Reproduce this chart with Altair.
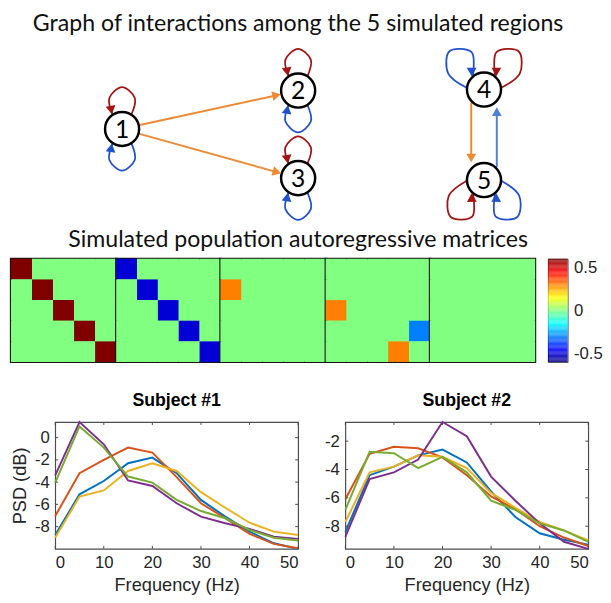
import math
import altair as alt
import pandas as pd
import numpy as np

# ---------------------------------------------------------------- data
NODE_IDS = [1, 2, 3, 4, 5]
NODE_X = [121, 300, 300, 489, 489]
NODE_Y = [126, 87, 176, 86, 178]

EDGE_FROM = [1, 1, 4, 5]
EDGE_TO = [2, 3, 5, 4]
EDGE_SIGN = ["+", "+", "+", "-"]

LOOP_NODE = [1, 1, 2, 2, 3, 3, 4, 4, 5, 5]
LOOP_LAG = [1, 2, 1, 2, 1, 2, 1, 2, 1, 2]

A1 = [[0.6, 0, 0, 0, 0], [0, 0.6, 0, 0, 0], [0, 0, 0.6, 0, 0], [0, 0, 0, 0.6, 0], [0, 0, 0, 0, 0.6]]
A2 = [[-0.5, 0, 0, 0, 0], [0, -0.5, 0, 0, 0], [0, 0, -0.5, 0, 0], [0, 0, 0, -0.5, 0], [0, 0, 0, 0, -0.5]]
A3 = [[0, 0, 0, 0, 0], [0.3, 0, 0, 0, 0], [0, 0, 0, 0, 0], [0, 0, 0, 0, 0], [0, 0, 0, 0, 0]]
A4 = [[0, 0, 0, 0, 0], [0, 0, 0, 0, 0], [0.3, 0, 0, 0, 0], [0, 0, 0, 0, -0.3], [0, 0, 0, 0.3, 0]]
A5 = [[0, 0, 0, 0, 0], [0, 0, 0, 0, 0], [0, 0, 0, 0, 0], [0, 0, 0, 0, 0], [0, 0, 0, 0, 0]]
MATRICES = [A1, A2, A3, A4, A5]
CBAR_TICKS = [-0.5, 0, 0.5]

FREQ = [0, 5, 10, 15, 20, 25, 30, 35, 40, 45, 50]
SERIES = ["1", "2", "3", "4", "5"]
S1_1 = [-8.75, -5.1, -3.9, -2.3, -1.8, -3.2, -5.6, -7.1, -8.45, -9.5, -10.0]
S1_2 = [-7.05, -3.2, -2.0, -0.9, -1.35, -3.55, -5.9, -7.25, -8.65, -9.55, -9.95]
S1_3 = [-9.0, -5.3, -4.75, -3.0, -2.3, -3.0, -4.9, -6.3, -7.65, -8.45, -8.75]
S1_4 = [-3.4, 1.4, -0.6, -3.85, -4.35, -5.9, -7.1, -7.7, -8.2, -8.9, -9.1]
S1_5 = [-4.05, 1.0, -0.9, -3.5, -4.05, -5.6, -6.6, -7.25, -8.3, -9.0, -9.25]
S2_1 = [-8.4, -4.4, -3.8, -3.0, -2.6, -3.5, -5.55, -7.35, -8.5, -8.95, -9.3]
S2_2 = [-6.1, -2.9, -2.4, -2.5, -3.15, -4.4, -5.9, -6.8, -8.0, -8.8, -9.4]
S2_3 = [-7.7, -4.2, -3.8, -3.0, -3.1, -3.9, -5.65, -6.7, -7.7, -8.3, -9.0]
S2_4 = [-8.75, -4.67, -4.2, -3.3, -0.65, -1.65, -4.5, -6.2, -7.8, -9.1, -9.6]
S2_5 = [-6.85, -2.75, -2.85, -3.9, -3.1, -4.2, -6.2, -6.85, -7.8, -8.3, -9.1]
X_TICKS = [0, 10, 20, 30, 40, 50]
Y_TICKS_1 = [-8, -6, -4, -2, 0]
Y_TICKS_2 = [-8, -6, -4, -2]

# ---------------------------------------------------------------- styles / layout
RED = "#A31515"
BLUE = "#2251CC"
ORANGE = "#EF8A34"
LBLUE = "#4D80D9"
LINE_COLORS = ["#0072BD", "#D95319", "#EDB120", "#7E2F8E", "#77AC30"]
JET_DOMAIN = [-0.6, -0.45, -0.15, 0.15, 0.45, 0.6]
JET_RANGE = ["#000080", "#0000FF", "#00FFFF", "#FFFF00", "#FF0000", "#800000"]
TXT = "#262626"
FRAME = "#4d4d4d"
SANS = "Liberation Sans"
TFONT = "Lato"

GW, GH = 595, 250            # graph panel (page x 8..603, y 8..258)
MAT_W = [107, 106, 107, 106, 107]
MAT_H = 105
PW, PH = 247, 129
PSD_LEFT = 45                # room for the y axis of the first PSD panel

# loop geometry: attach angle, half-opening, body angle, length, half width
LOOP_GEOM = {
    (1, 1): (0, 33, 0, 25, 13), (1, 2): (180, 33, 180, 25, 13),
    (2, 1): (0, 33, 0, 25, 13), (2, 2): (180, 33, 180, 25, 13),
    (3, 1): (0, 33, 0, 25, 13), (3, 2): (180, 33, 180, 25, 13),
    (4, 1): (62, 22, 42, 35, 16), (4, 2): (298, 22, 318, 35, 16),
    (5, 1): (244, 24, 222, 33, 16), (5, 2): (116, 24, 138, 33, 16),
}
ARROW_SIZE = 100
ARROW_H = math.sqrt(ARROW_SIZE) * math.sqrt(3) / 4  # tip distance from symbol centre


def unit(theta):
    t = math.radians(theta)
    return math.sin(t), -math.cos(t)


def ang_of(dx, dy):
    return (math.degrees(math.atan2(dx, -dy)) + 360.0) % 360.0


pos = {n: (x, y) for n, x, y in zip(NODE_IDS, NODE_X, NODE_Y)}

# loops + their arrowheads
loop_rows, loop_arrows = [], []
for i, (n, lag) in enumerate(zip(LOOP_NODE, LOOP_LAG)):
    cx, cy = pos[n]
    attach, a, body, L, W = LOOP_GEOM[(n, lag)]
    R0 = 17.5

    def at(r, th):
        ux, uy = unit(th)
        return cx + r * ux, cy + r * uy

    A = at(R0, attach - a)
    mid = at(R0 + 0.55 * L, body)
    px, py = unit(body + 90)
    Q1 = (mid[0] - W * px, mid[1] - W * py)
    P = at(R0 + L, body)
    Q2 = (mid[0] + W * px, mid[1] + W * py)
    B = at(R0, attach + a)
    for k, (x, y) in enumerate([A, Q1, P, Q2, B]):
        loop_rows.append({"loop": i, "k": k, "x": x, "y": y, "lag": lag})
    if lag == 1:
        tip, prev = at(19.5, attach - a), Q1
    else:
        tip, prev = at(19.5, attach + a), Q2
    dx, dy = tip[0] - prev[0], tip[1] - prev[1]
    d = math.hypot(dx, dy)
    dx, dy = dx / d, dy / d
    loop_arrows.append({"x": tip[0] - ARROW_H * dx, "y": tip[1] - ARROW_H * dy,
                        "ang": ang_of(dx, dy), "lag": lag})
loops_df = pd.DataFrame(loop_rows)
loop_arrows_df = pd.DataFrame(loop_arrows)

# edges + arrowheads
edge_rows, edge_arrows = [], []
pairs = set(zip(EDGE_FROM, EDGE_TO))
for s, t, sg in zip(EDGE_FROM, EDGE_TO, EDGE_SIGN):
    (x1, y1), (x2, y2) = pos[s], pos[t]
    dx, dy = x2 - x1, y2 - y1
    d = math.hypot(dx, dy)
    dx, dy = dx / d, dy / d
    off = 13 if (t, s) in pairs else 0
    ox, oy = -dy * off, dx * off
    start_along = math.sqrt(max(18.5 ** 2 - off ** 2, 0))
    sx, sy = x1 + ox + dx * start_along, y1 + oy + dy * start_along
    tx, ty = x2 + ox - dx * 19.5, y2 + oy - dy * 19.5
    ex, ey = tx - dx * 6, ty - dy * 6
    edge_rows.append({"x": sx, "y": sy, "x2": ex, "y2": ey, "sign": sg})
    edge_arrows.append({"x": tx - ARROW_H * dx, "y": ty - ARROW_H * dy,
                        "ang": ang_of(dx, dy), "sign": sg})
edges_df = pd.DataFrame(edge_rows)
edge_arrows_df = pd.DataFrame(edge_arrows)

nodes_df = pd.DataFrame({"x": NODE_X, "y": NODE_Y, "label": [str(n) for n in NODE_IDS]})

XS = alt.Scale(domain=[8, 8 + GW], nice=False, zero=False)
YS = alt.Scale(domain=[8, 8 + GH], nice=False, zero=False, reverse=True)


def gx(f="x"):
    return alt.X(f"{f}:Q", scale=XS, axis=None)


def gy(f="y"):
    return alt.Y(f"{f}:Q", scale=YS, axis=None)


def edges_layer(sign, color):
    return alt.Chart(edges_df).transform_filter(alt.datum.sign == sign).mark_rule(
        color=color, strokeWidth=2).encode(x=gx(), y=gy(), x2="x2:Q", y2="y2:Q")


def loops_layer(lag, color):
    return alt.Chart(loops_df).transform_filter(alt.datum.lag == lag).mark_line(
        color=color, strokeWidth=1.8, interpolate="catmull-rom").encode(
        x=gx(), y=gy(), detail="loop:N", order="k:Q")


def arrows_layer(df, field, val, color):
    return alt.Chart(df).transform_filter(alt.datum[field] == val).mark_point(
        shape="triangle", filled=True, size=ARROW_SIZE, color=color, opacity=1).encode(
        x=gx(), y=gy(), angle=alt.Angle("ang:Q", scale=None))


node_layer = alt.Chart(nodes_df).mark_point(
    shape="circle", size=1200, filled=True, fill="white", stroke="black",
    strokeWidth=2.5, opacity=1).encode(x=gx(), y=gy())
label_layer = alt.Chart(nodes_df).mark_text(
    font=TFONT, fontSize=25, color="black", baseline="middle", dy=1).encode(
    x=gx(), y=gy(), text="label:N")

titles_df = pd.DataFrame({
    "x": [300, 300], "y": [26.5, 246],
    "text": ["Graph of interactions among the 5 simulated regions",
             "Simulated population autoregressive matrices"]})
title_layer = alt.Chart(titles_df).mark_text(
    font=TFONT, fontSize=23.5, color="#111111", baseline="alphabetic", align="center",
    clip=True).encode(x=gx(), y=gy(), text="text:N")

graph = alt.layer(
    edges_layer("+", ORANGE), edges_layer("-", LBLUE),
    loops_layer(1, RED), loops_layer(2, BLUE),
    node_layer, label_layer,
    arrows_layer(loop_arrows_df, "lag", 1, RED), arrows_layer(loop_arrows_df, "lag", 2, BLUE),
    arrows_layer(edge_arrows_df, "sign", "+", ORANGE), arrows_layer(edge_arrows_df, "sign", "-", LBLUE),
    title_layer,
).properties(width=GW, height=GH, view=alt.ViewBackground(stroke=None))

# ---------------------------------------------------------------- matrices
JET = alt.Scale(domain=JET_DOMAIN, range=JET_RANGE, interpolate="rgb", clamp=True)
mat_charts = []
for m, w in zip(MATRICES, MAT_W):
    rows = [{"row": r + 1, "col": c + 1, "value": m[r][c]} for r in range(5) for c in range(5)]
    mat_charts.append(
        alt.Chart(pd.DataFrame(rows)).mark_rect().encode(
            x=alt.X("col:O", axis=None, scale=alt.Scale(paddingInner=0, paddingOuter=0)),
            y=alt.Y("row:O", axis=None, scale=alt.Scale(paddingInner=0, paddingOuter=0)),
            fill=alt.Fill("value:Q", scale=JET, legend=None),
        ).properties(width=w, height=MAT_H,
                     view=alt.ViewBackground(stroke="#141414", strokeWidth=2.2, fill="#80FF80"))
    )
mats = alt.hconcat(*mat_charts, spacing=0, bounds="flush")

cb_lo = np.round(np.arange(-0.6, 0.6, 0.01), 3)
cbar_df = pd.DataFrame({"lo": cb_lo, "hi": cb_lo + 0.01, "mid": cb_lo + 0.005})
cbar = alt.Chart(cbar_df).mark_rect().encode(
    x=alt.value(0), x2=alt.value(20),
    y=alt.Y("lo:Q", scale=alt.Scale(domain=[-0.6, 0.6], nice=False, zero=False),
            axis=alt.Axis(orient="right", values=CBAR_TICKS, ticks=False, tickSize=0,
                          domain=False, grid=False, labelPadding=6, labelFontSize=17,
                          labelFont=SANS, labelColor=TXT, title=None,
                          labelExpr="'' + datum.value")),
    y2="hi:Q",
    fill=alt.Fill("mid:Q", scale=JET, legend=None),
).properties(width=20, height=MAT_H, view=alt.ViewBackground(stroke="#555555", strokeWidth=1))

mat_row = alt.hconcat(mats, cbar, spacing=10)
top_block = alt.vconcat(graph, mat_row, spacing=0, bounds="flush")

# ---------------------------------------------------------------- PSD panels
def psd_panel(series_vals, yticks, title, ytitle):
    recs = []
    for name, vals in zip(SERIES, series_vals):
        for f, v in zip(FREQ, vals):
            recs.append({"f": f, "v": v, "s": name})
    df = pd.DataFrame(recs)
    lo, hi = float(df["v"].min()), float(df["v"].max())
    ysc = alt.Scale(domain=[lo, hi], nice=False, zero=False)
    xsc = alt.Scale(domain=[0, 50], nice=False, zero=False)
    xa = alt.Axis(values=X_TICKS, title="Frequency (Hz)")
    ya = alt.Axis(values=yticks, title=ytitle, labelExpr="'' + datum.value")
    lines = alt.Chart(df).mark_line(strokeWidth=2).encode(
        x=alt.X("f:Q", scale=xsc, axis=xa),
        y=alt.Y("v:Q", scale=ysc, axis=ya),
        stroke=alt.Stroke("s:N", scale=alt.Scale(domain=SERIES, range=LINE_COLORS), legend=None),
    )
    ydf = pd.DataFrame({"v": yticks})
    xdf = pd.DataFrame({"f": X_TICKS})
    tick_l = alt.Chart(ydf).mark_rule(color=FRAME, strokeWidth=1).encode(
        y=alt.Y("v:Q", scale=ysc, axis=ya), x=alt.value(0), x2=alt.value(3))
    tick_r = alt.Chart(ydf).mark_rule(color=FRAME, strokeWidth=1).encode(
        y=alt.Y("v:Q", scale=ysc, axis=ya), x=alt.value(PW - 3), x2=alt.value(PW))
    tick_b = alt.Chart(xdf).mark_rule(color=FRAME, strokeWidth=1).encode(
        x=alt.X("f:Q", scale=xsc, axis=xa), y=alt.value(PH), y2=alt.value(PH - 3))
    tick_t = alt.Chart(xdf).mark_rule(color=FRAME, strokeWidth=1).encode(
        x=alt.X("f:Q", scale=xsc, axis=xa), y=alt.value(0), y2=alt.value(3))
    return alt.layer(lines, tick_l, tick_r, tick_b, tick_t).properties(
        width=PW, height=PH,
        title=alt.TitleParams(title, font=SANS, fontSize=18, fontWeight="bold",
                              color="black", offset=8, anchor="middle"),
        view=alt.ViewBackground(stroke=FRAME, strokeWidth=1.2),
    )


p1 = psd_panel([S1_1, S1_2, S1_3, S1_4, S1_5], Y_TICKS_1, "Subject #1", "PSD (dB)")
p2 = psd_panel([S2_1, S2_2, S2_3, S2_4, S2_5], Y_TICKS_2, "Subject #2", None)
psd_pair = alt.hconcat(p1, p2, spacing=48, bounds="flush")

# an empty 1px column that reserves the room taken by the first panel's y axis
spacer = alt.Chart(pd.DataFrame({"x": [0]})).mark_point(opacity=0).encode(
    x=alt.X("x:Q", axis=None), y=alt.Y("x:Q", axis=None)).properties(
    width=1, height=1, view=alt.ViewBackground(stroke=None))
psd_row = alt.hconcat(spacer, psd_pair, spacing=PSD_LEFT - 1, bounds="flush")

chart = alt.vconcat(top_block, psd_row, spacing=28).properties(
    padding=0).configure_view(stroke=None).configure_axis(
    labelFont=SANS, labelFontSize=17, labelColor=TXT, titleFont=SANS, titleFontSize=18.5,
    titleFontWeight="normal", titleColor=TXT, ticks=False, tickSize=0, domain=False,
    grid=False, labelPadding=6, titlePadding=5)

chart.save("out.html", embed_options={"renderer": "svg", "actions": False})
